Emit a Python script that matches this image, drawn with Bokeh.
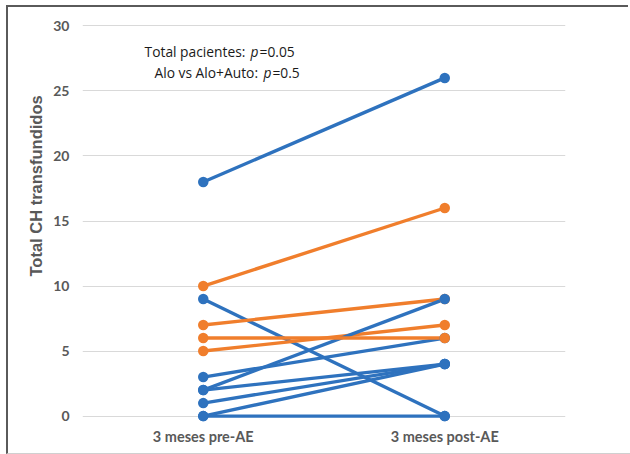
from bokeh.plotting import figure
from bokeh.layouts import column
from bokeh.models import Range1d, FixedTicker, ColumnDataSource, Title, Div
from bokeh.core.properties import value
from bokeh.transform import factor_cmap
from bokeh.embed import file_html
from bokeh.resources import INLINE

# ---- data ----
periods = ["3 meses pre-AE", "3 meses post-AE"]
pre_values = [18, 9, 3, 2, 1, 0, 0, 10, 7, 5, 2, 6]
post_values = [26, 0, 6, 4, 4, 4, 0, 16, 9, 7, 9, 6]
groups = ["Alo"] * 7 + ["Alo+Auto"] * 3 + ["Alo", "Alo+Auto"]
group_names = ["Alo", "Alo+Auto"]
group_colors = ["#2e72be", "#f07e2c"]
y_ticks = [0, 5, 10, 15, 20, 25, 30]
y_title = "Total CH transfundidos"
note_line1 = ["Total pacientes: ", "p", "=0.05"]
note_line2 = ["Alo vs Alo+Auto: ", "p", "=0.5"]

FONT = "Lato"

p = figure(x_range=periods, y_range=Range1d(-0.8, 30.8),
           width=622, height=446, output_backend="svg", toolbar_location=None,
           min_border_left=74, min_border_right=65, min_border_top=8, min_border_bottom=27)
p.margin = 0
p.outline_line_color = None
p.background_fill_color = "white"
p.border_fill_color = "white"

p.xgrid.grid_line_color = None
p.ygrid.grid_line_color = "#d9d9d9"
p.ygrid.grid_line_width = 1.2

p.yaxis.ticker = FixedTicker(ticks=y_ticks)
for ax in (p.xaxis, p.yaxis):
    ax.axis_line_color = None
    ax.major_tick_line_color = None
    ax.major_tick_out = 0
    ax.major_tick_in = 0
    ax.minor_tick_line_color = None
    ax.major_label_text_font = FONT
    ax.major_label_text_font_style = "bold"
    ax.major_label_text_color = "#595959"
p.xaxis.major_label_text_font_size = "14.5px"
p.yaxis.major_label_text_font_size = "14px"
p.xaxis.major_label_standoff = 1
p.yaxis.major_label_standoff = 13

# y-axis title, offset upwards as in the original
p.add_layout(Title(text=y_title, align="left", offset=150, standoff=12,
                   text_font="Liberation Sans", text_font_style="bold",
                   text_font_size="16.5px", text_color="#595959"), "left")

src = ColumnDataSource(dict(
    x0=[periods[0]] * len(pre_values), x1=[periods[1]] * len(post_values),
    y0=pre_values, y1=post_values, g=groups))
cmap = factor_cmap("g", palette=group_colors, factors=group_names)

p.segment(x0="x0", y0="y0", x1="x1", y1="y1", source=src,
          line_color=cmap, line_width=3.4)

# markers: per patient, pre then post
mx, my, mg = [], [], []
for a, b, g in zip(pre_values, post_values, groups):
    mx += [periods[0], periods[1]]
    my += [a, b]
    mg += [g, g]
msrc = ColumnDataSource(dict(x=mx, y=my, g=mg))
p.scatter(x="x", y="y", source=msrc, size=10.5,
          fill_color=factor_cmap("g", palette=group_colors, factors=group_names),
          line_color=None)

# annotation with italic p
def note(parts, x, y, offsets):
    styles = ["normal", "italic", "normal"]
    for t, st, off in zip(parts, styles, offsets):
        p.text(x=[x], y=[y], text=[t], x_offset=off, text_font=value("Open Sans"),
               text_font_style=st, text_font_size="13.8px", text_color="#1a1a1a",
               text_baseline="middle", text_align="left")

note(note_line1, 0.257, 28.0, [0, 106, 115])
note(note_line2, 0.298, 26.4, [0, 109, 118])

top_rule = Div(text="", width=624, height=2, margin=0,
               styles={"background-color": "#5a5a5a", "margin-left": "-2px"})

layout = column(top_rule, p, spacing=0)
layout.margin = (5, 0, 0, 6)
layout.styles = {"border-style": "none none solid solid",
                 "border-width": "0px 0px 1px 2px",
                 "border-color": "#5a5a5a #5a5a5a #d0d0d0 #5a5a5a"}

open("out.html", "w").write(file_html(layout, INLINE))
